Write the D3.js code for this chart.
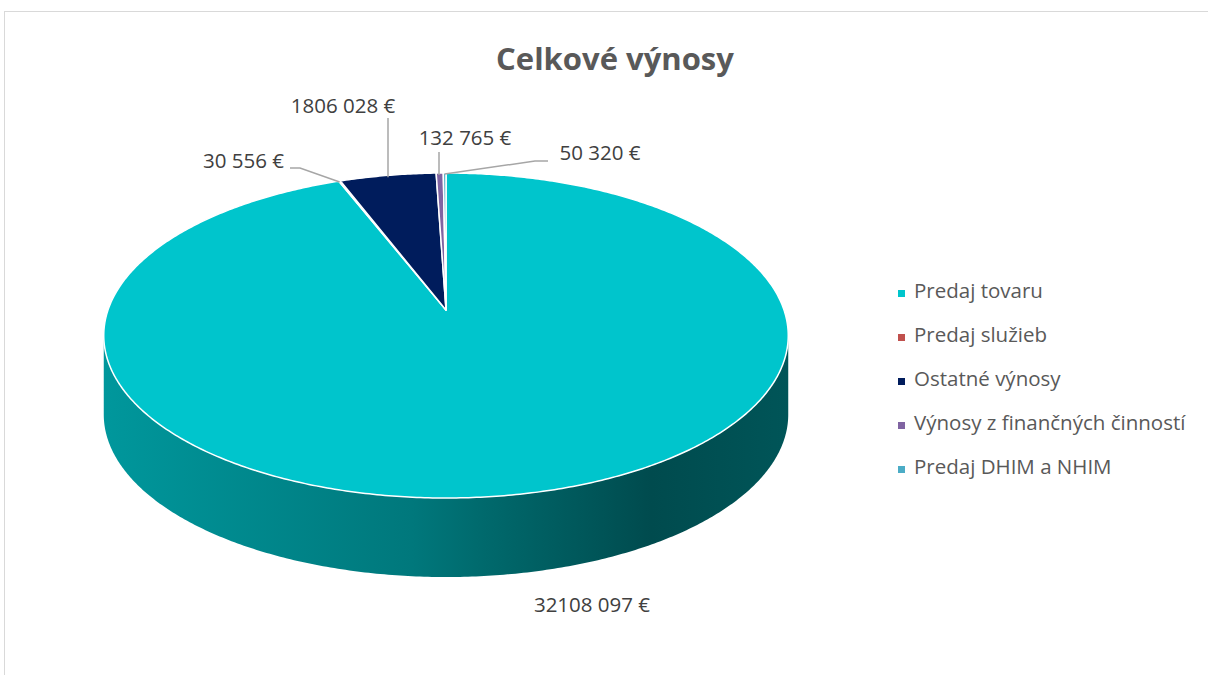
<!DOCTYPE html>
<html>
<head>
<meta charset="utf-8">
<script src="https://cdn.jsdelivr.net/npm/d3@7"></script>
<style>
  body { margin: 0; background: #fff; }
  svg { display: block; font-family: "Open Sans", "Noto Sans", sans-serif; }
</style>
</head>
<body>
<div id="chart"></div>
<script>
// data
const categories = ["Predaj tovaru", "Predaj služieb", "Ostatné výnosy", "Výnosy z finančných činností", "Predaj DHIM a NHIM"];
const values = [32108097, 30556, 1806028, 132765, 50320];
const colors = ["#00c5cc", "#c0504d", "#001c5c", "#8064a2", "#4bacc6"];
const labelText = ["32108 097 €", "30 556 €", "1806 028 €", "132 765 €", "50 320 €"];

const width = 1208, height = 675;
const svg = d3.select("#chart").append("svg")
    .attr("width", width)
    .attr("height", height);

// chart frame
svg.append("rect")
    .attr("x", 4.5).attr("y", 11.5)
    .attr("width", width + 20).attr("height", height + 20)
    .attr("fill", "#fff")
    .attr("stroke", "#d9d9d9");

svg.append("text")
    .attr("x", 615).attr("y", 70)
    .attr("text-anchor", "middle")
    .style("font-size", "31px")
    .style("font-weight", "bold")
    .style("fill", "#595959")
    .text("Celkové výnosy");

// perspective projection of the pie disk
const cx = 446, cy = 310, A = 338, B = 158.5, k = 0.157, depth = 79;
function proj(a, dy = 0) {
    const u = Math.sin(a), v = -Math.cos(a);
    const w = 1 - k * v;
    return [cx + A * u / w, cy + B * v / w + dy];
}
function arcPoints(a0, a1, dy) {
    const n = Math.max(2, Math.ceil((a1 - a0) / 0.01));
    return d3.range(n + 1).map(i => proj(a0 + (a1 - a0) * i / n, dy));
}

const pie = d3.pie().sort(null).value(d => d)(values);

// visible front of the side wall
const front0 = Math.acos(-k), front1 = 2 * Math.PI - Math.acos(-k);
const xl = cx - A / Math.sqrt(1 - k * k), xr = cx + A / Math.sqrt(1 - k * k);

const defs = svg.append("defs");
pie.forEach((p, i) => {
    const c = d3.color(colors[i]);
    const g = defs.append("linearGradient")
        .attr("id", "side" + i)
        .attr("gradientUnits", "userSpaceOnUse")
        .attr("x1", xl).attr("x2", xr).attr("y1", 0).attr("y2", 0);
    [[0, 0.75], [0.45, 1.4], [0.55, 1.75], [0.8, 2.7], [1, 2.35]].forEach(([o, d]) => {
        g.append("stop").attr("offset", o).attr("stop-color", c.darker(d).formatHex());
    });
});

const line = d3.line();

// side walls
pie.forEach((p, i) => {
    const s0 = Math.max(p.startAngle, front0), s1 = Math.min(p.endAngle, front1);
    if (s1 <= s0) return;
    const top = arcPoints(s0, s1, 0);
    const bot = arcPoints(s0, s1, depth).reverse();
    svg.append("path")
        .attr("d", line(top.concat(bot)) + "Z")
        .attr("fill", `url(#side${i})`);
});

// top faces
pie.forEach((p, i) => {
    const pts = [[cx, cy]].concat(arcPoints(p.startAngle, p.endAngle, 0));
    svg.append("path")
        .attr("d", line(pts) + "Z")
        .attr("fill", colors[i])
        .attr("stroke", "#fff")
        .attr("stroke-width", 1.5)
        .attr("stroke-linejoin", "round");
});

// data labels with leader lines
const labelPos = [
    { x: 592, y: 612, anchor: "middle", lead: null },
    { x: 284, y: 168, anchor: "end", lead: [[290, 168], [300, 168]] },
    { x: 343, y: 113, anchor: "middle", lead: [[388, 118]] },
    { x: 465, y: 145, anchor: "middle", lead: [[439, 152]] },
    { x: 600, y: 160, anchor: "middle", lead: [[548, 161], [535, 161]] }
];
pie.forEach((p, i) => {
    const lp = labelPos[i];
    if (lp.lead) {
        const mid = (p.startAngle + p.endAngle) / 2;
        const end = proj(mid, 0);
        let pts = lp.lead.slice();
        if (pts.length === 1) pts.push([pts[0][0], end[1] + 2]);
        else pts.push([end[0], end[1] + 1]);
        svg.append("path")
            .attr("d", line(pts))
            .attr("fill", "none")
            .attr("stroke", "#a6a6a6")
            .attr("stroke-width", 1.5);
    }
    svg.append("text")
        .attr("x", lp.x).attr("y", lp.y)
        .attr("text-anchor", lp.anchor)
        .style("font-size", "20.5px")
        .style("fill", "#404040")
        .text(labelText[i]);
});

// legend
const legend = svg.append("g").attr("transform", "translate(898,292)");
categories.forEach((c, i) => {
    const row = legend.append("g").attr("transform", `translate(0,${i * 44})`);
    row.append("rect").attr("x", 0).attr("y", -2).attr("width", 7).attr("height", 7).attr("fill", colors[i]);
    row.append("text").attr("x", 16).attr("y", 6)
        .style("font-size", "20.5px")
        .style("fill", "#595959")
        .text(c);
});
</script>
</body>
</html>
